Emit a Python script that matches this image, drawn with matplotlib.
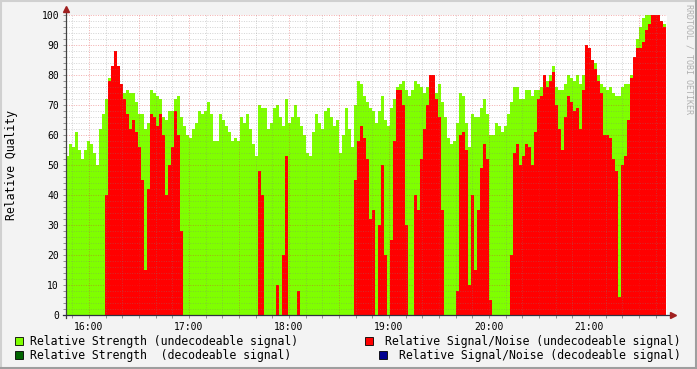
import numpy as np
import matplotlib
matplotlib.use("Agg")
import matplotlib.pyplot as plt
from matplotlib.patches import Rectangle
from matplotlib.lines import Line2D
from matplotlib.ticker import MultipleLocator, FuncFormatter

# time axis: minutes since midnight, one sample every 1.8 min
start_min = 15 * 60 + 46.2
step_min = 1.8

# Relative Strength (undecodeable signal)
strength = [53, 57, 56, 61, 55, 52, 55, 58, 57, 54, 50, 62, 67, 72, 79, 82, 86, 80, 75, 74, 75, 74, 74, 71, 67, 67,
            62, 64, 75, 74, 73, 72, 66, 65, 68, 68, 72, 73, 66, 63, 60, 59, 62, 64, 68, 67, 68, 71, 67, 58, 58, 67,
            65, 63, 61, 58, 59, 58, 66, 64, 67, 62, 57, 53, 70, 69, 69, 62, 64, 69, 70, 66, 63, 72, 64, 66, 70, 66,
            63, 60, 54, 53, 61, 67, 64, 62, 68, 69, 66, 63, 65, 54, 60, 69, 62, 56, 70, 78, 77, 73, 71, 69, 68, 64,
            68, 73, 65, 63, 69, 72, 76, 77, 78, 75, 73, 75, 78, 77, 76, 74, 76, 80, 79, 74, 77, 71, 66, 59, 57, 58,
            64, 74, 73, 64, 56, 67, 66, 66, 69, 72, 67, 60, 60, 64, 63, 61, 63, 67, 71, 76, 76, 72, 72, 75, 75, 73,
            75, 75, 76, 78, 78, 80, 83, 76, 75, 75, 77, 80, 79, 78, 80, 77, 80, 88, 88, 85, 84, 80, 77, 76, 75, 76,
            74, 73, 73, 76, 77, 77, 80, 86, 92, 96, 99, 100, 100, 100, 100, 100, 98, 97]

# Relative Signal/Noise (undecodeable signal)
snr = [0, 0, 0, 0, 0, 0, 0, 0, 0, 0, 0, 0, 0, 40, 78, 83, 88, 83, 77, 72, 67, 62, 65, 61, 56, 45,
       15, 42, 67, 66, 63, 67, 60, 40, 50, 56, 68, 60, 28, 0, 0, 0, 0, 0, 0, 0, 0, 0, 0, 0, 0, 0,
       0, 0, 0, 0, 0, 0, 0, 0, 0, 0, 0, 0, 48, 40, 0, 0, 0, 0, 10, 0, 20, 53, 0, 0, 0, 8,
       0, 0, 0, 0, 0, 0, 0, 0, 0, 0, 0, 0, 0, 0, 0, 0, 0, 0, 45, 58, 63, 59, 52, 32, 35, 0,
       30, 50, 20, 0, 25, 58, 75, 75, 70, 30, 0, 0, 40, 35, 52, 62, 70, 80, 80, 72, 66, 35, 0, 0, 0, 0,
       8, 60, 61, 55, 10, 40, 15, 35, 49, 57, 52, 5, 0, 0, 0, 0, 0, 0, 20, 54, 57, 50, 53, 57, 56, 50,
       61, 72, 73, 80, 76, 78, 81, 70, 62, 55, 66, 73, 71, 68, 69, 62, 75, 90, 89, 85, 82, 78, 74, 60, 60, 59,
       52, 48, 6, 50, 53, 65, 79, 86, 89, 89, 91, 95, 97, 100, 100, 100, 98, 96]

legend_left = ["Relative Strength (undecodeable signal)", "Relative Strength  (decodeable signal)"]
legend_right = ["Relative Signal/Noise (undecodeable signal)", "Relative Signal/Noise (decodeable signal)"]
colors_left = ["#7FFF00", "#006400"]
colors_right = ["#FF0000", "#000090"]

W, H = 697, 369
mono = "DejaVu Sans Mono"
plt.rcParams['font.family'] = mono

fig = plt.figure(figsize=(W / 100, H / 100), dpi=100, facecolor="#F3F3F3")
ax = fig.add_axes([66 / W, 54 / H, 601 / W, 300 / H])
ax.set_facecolor("white")

edges = start_min + step_min * np.arange(len(strength) + 1)
ax.stairs(strength, edges, fill=True, facecolor="#7FFF00", edgecolor="none", baseline=0, zorder=1)
ax.stairs(snr, edges, fill=True, facecolor="#FF0000", edgecolor="none", baseline=0, zorder=1.2)

ax.set_xlim(start_min, start_min + 601 * 0.6)
ax.set_ylim(0, 100)

ax.xaxis.set_major_locator(MultipleLocator(30))
ax.xaxis.set_minor_locator(MultipleLocator(10))
ax.yaxis.set_major_locator(MultipleLocator(10))
ax.yaxis.set_minor_locator(MultipleLocator(2))


def hhmm(v, pos):
    m = int(round(v))
    if m % 60 != 0:
        return ""
    return "%02d:00" % (m // 60)


ax.xaxis.set_major_formatter(FuncFormatter(hhmm))
ax.yaxis.set_major_formatter(FuncFormatter(lambda v, p: "%d" % v))

ax.set_axisbelow(False)
ax.grid(which="minor", color="#808080", alpha=0.35, ls=(0, (1, 1.5)), lw=0.7)
ax.grid(which="major", color="#E03030", alpha=0.4, ls=(0, (1, 1.5)), lw=0.7)

ax.tick_params(which="both", direction="out", length=2, width=0.7, color="#909090",
               labelsize=7, pad=3, labelcolor="#000000")
for s in ax.spines.values():
    s.set_visible(False)

# axis lines and arrows
ax.plot([0, 0], [-0.01, 1.02], transform=ax.transAxes, clip_on=False, color="#404040", lw=0.9, zorder=5)
ax.plot([-0.005, 1.008], [0, 0], transform=ax.transAxes, clip_on=False, color="#303040", lw=0.9, zorder=5)
ax.plot([0], [1.02], transform=ax.transAxes, clip_on=False, marker="^", ms=4, color="#A02020", zorder=6)
ax.plot([1.01], [0], transform=ax.transAxes, clip_on=False, marker=">", ms=4, color="#A02020", zorder=6)

fig.text(12 / W, 1 - 165 / H, "Relative Quality", rotation=90, ha="center", va="center", size=8.3)
fig.text(689 / W, 1 - 4 / H, "RRDTOOL / TOBI OETIKER", rotation=270, ha="center", va="top",
         size=6, color="#B0B0B0")

# legend
rows_y = [341, 355]
for k in range(2):
    y = rows_y[k]
    fig.add_artist(Rectangle((15 / W, 1 - (y + 4) / H), 8 / W, 8 / H, transform=fig.transFigure,
                             facecolor=colors_left[k], edgecolor="black", lw=0.6))
    fig.text(30 / W, 1 - y / H, legend_left[k], ha="left", va="center", size=8.3)
    fig.text(681 / W, 1 - y / H, legend_right[k], ha="right", va="center", size=8.3)
    xr = 365 if k == 0 else 379
    fig.add_artist(Rectangle((xr / W, 1 - (y + 4) / H), 8 / W, 8 / H, transform=fig.transFigure,
                             facecolor=colors_right[k], edgecolor="black", lw=0.6))

# border
fig.add_artist(Line2D([0, 1], [1 - 1 / H, 1 - 1 / H], transform=fig.transFigure, color="#D0D0D0", lw=1.5))
fig.add_artist(Line2D([1 / W, 1 / W], [0, 1], transform=fig.transFigure, color="#D0D0D0", lw=1.5))
fig.add_artist(Line2D([0, 1], [1 / H, 1 / H], transform=fig.transFigure, color="#9E9E9E", lw=1.5))
fig.add_artist(Line2D([1 - 1 / W, 1 - 1 / W], [0, 1], transform=fig.transFigure, color="#9E9E9E", lw=1.5))

fig.savefig("out.png", dpi=100, facecolor=fig.get_facecolor())
